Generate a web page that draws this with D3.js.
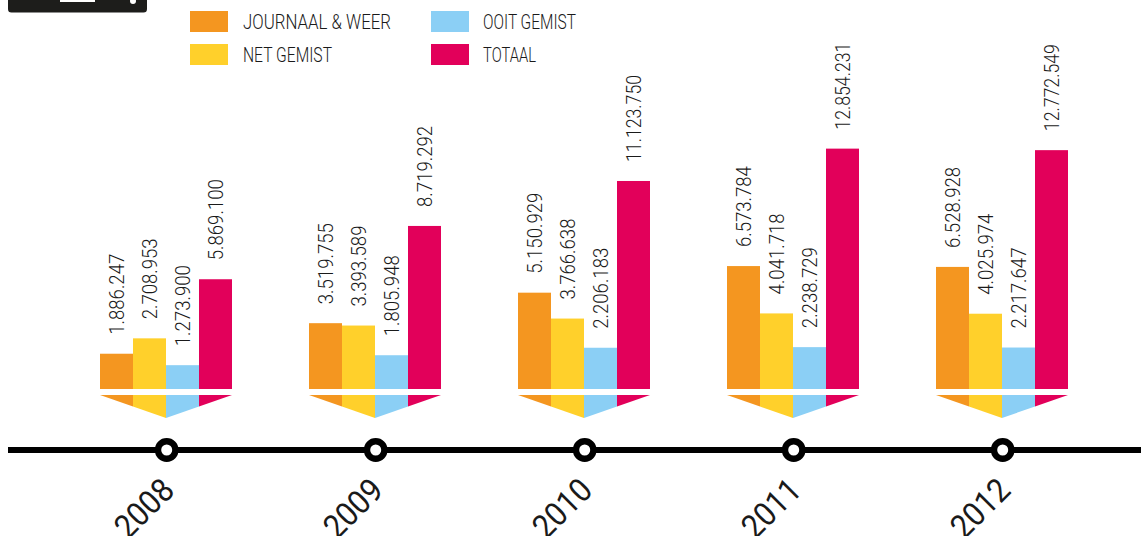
<!DOCTYPE html>
<html><head><meta charset="utf-8">
<script src="https://cdn.jsdelivr.net/npm/d3@7"></script>
<style>html,body{margin:0;padding:0;background:#fff}svg{display:block}text{font-family:Roboto,sans-serif;fill:#1a1a1a}</style>
</head><body><svg id="c" width="1141" height="536"></svg>
<script>
const years=["2008","2009","2010","2011","2012"];
const seriesNames=["JOURNAAL & WEER","NET GEMIST","OOIT GEMIST","TOTAAL"];
const seriesColors=["#f49620","#ffd02b","#8bcff5","#e2005a"];
const journaal=[1886247,3519755,5150929,6573784,6528928];
const netGemist=[2708953,3393589,3766638,4041718,4025974];
const ooitGemist=[1273900,1805948,2206183,2238729,2217647];
const totaal=[5869100,8719292,11123750,12854231,12772549];
const series=[journaal,netGemist,ooitGemist,totaal];
const fmt=v=>d3.format(",")(v).replace(/,/g,".");
const svg=d3.select("#c");
const W=33,base=389;
const x=d3.scalePoint().domain(years).range([100,936]);
const y=d3.scaleLinear().domain([0,10000000]).range([base,base-187]);
// header badge
svg.append("path").attr("d","M8,0H147V9a3.5,3.5 0 0 1 -3.5,3.5H11.5A3.5,3.5 0 0 1 8,9Z").attr("fill","#1d1d1b");
svg.append("rect").attr("x",60).attr("y",0).attr("width",35).attr("height",2).attr("fill","#fff");
svg.append("circle").attr("cx",133).attr("cy",1).attr("r",3).attr("fill","#fff");
// legend
const lx=[190,431],ly=[10,43],ltw=[148,89,93,53];
seriesNames.forEach((n,i)=>{
  const col=i<2?0:1,row=i%2;
  svg.append("rect").attr("x",lx[col]).attr("y",ly[row]+1).attr("width",38).attr("height",21).attr("fill",seriesColors[i]);
  svg.append("text").attr("x",lx[col]+(col?52:53)).attr("y",ly[row]+19).attr("font-size",21).attr("font-weight",300)
    .attr("textLength",ltw[i]).attr("lengthAdjust","spacingAndGlyphs").text(n);
});
// timeline
svg.append("rect").attr("x",8).attr("y",447).attr("width",1133).attr("height",6).attr("fill","#000");
svg.selectAll("circle.m").data(years).join("circle").attr("class","m")
  .attr("cx",d=>x(d)+66.7).attr("cy",450).attr("r",8.7).attr("fill","#fff").attr("stroke","#000").attr("stroke-width",6.4);
svg.selectAll("text.yr").data(years).join("text").attr("class","yr")
  .attr("transform",d=>`translate(${x(d)+70},${486}) rotate(-45)`)
  .attr("text-anchor","end").attr("dominant-baseline","middle").attr("font-size",33).attr("font-weight",400)
  .attr("textLength",68).attr("lengthAdjust","spacingAndGlyphs")
  .text(d=>d);
// bars
years.forEach((yr,yi)=>{
  const g=svg.append("g");
  const x0=x(yr);
  series.forEach((s,si)=>{
    const bx=x0+si*W, v=s[yi], t=fmt(v);
    g.append("rect").attr("x",bx).attr("y",y(v)).attr("width",W).attr("height",base-y(v)).attr("fill",seriesColors[si]);
    g.append("text").attr("transform",`translate(${bx+W/2+7},${y(v)-19}) rotate(-90)`)
      .attr("font-size",20).attr("font-weight",300).attr("textLength",t.length>9?87:81).attr("lengthAdjust","spacingAndGlyphs")
      .text(t);
  });
  // arrow shards under the bars
  const top=395,tip=418,mid=x0+2*W;
  const edge=px=>top+(tip-top)*(1-Math.abs(px-mid)/(2*W));
  series.forEach((s,si)=>{
    const a=x0+si*W,b=a+W;
    g.append("path").attr("d",`M${a},${top}L${b},${top}L${b},${edge(b)}L${a},${edge(a)}Z`).attr("fill",seriesColors[si]);
  });
});
</script></body></html>
